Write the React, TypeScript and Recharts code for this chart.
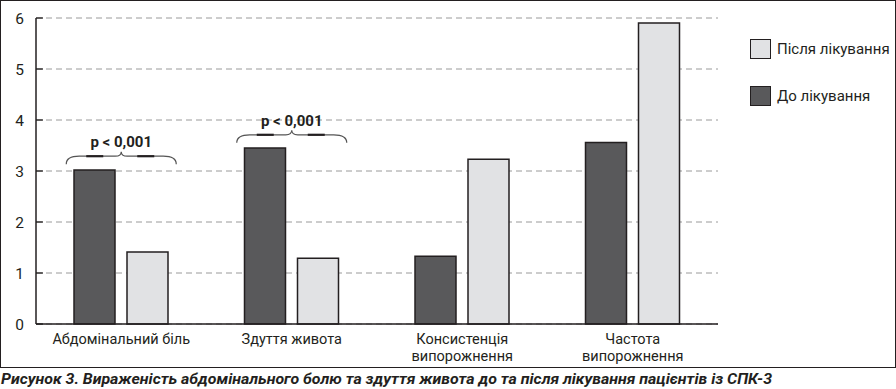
import React from 'react';
import { BarChart, Bar, XAxis, YAxis, CartesianGrid, ReferenceDot, Legend } from 'recharts';

const FONT = 'Roboto, "Liberation Sans", sans-serif';

const categories = ['Абдомінальний біль', 'Здуття живота', 'Консистенція\nвипорожнення', 'Частота\nвипорожнення'];
const beforeValues = [3.02, 3.45, 1.33, 3.56];
const afterValues = [1.41, 1.29, 3.23, 5.9];
const yTicks = [0, 1, 2, 3, 4, 5, 6];
const boundaryTicks = [0, 1, 2, 3, 4];
const seriesNames = { before: 'До лікування', after: 'Після лікування' };
const legendOrder = ['after', 'before'];
const pCategories = [categories[0], categories[1]];
const pLevels = [3.29, 3.71];
const pText = 'p < 0,001';
const caption = 'Рисунок 3. Вираженість абдомінального болю та здуття живота до та після лікування пацієнтів із СПК-3';

const DARK = '#59595b';
const LIGHT = '#e1e2e4';
const INK = '#231f20';

const data = categories.map((name, i) => ({ name, before: beforeValues[i], after: afterValues[i] }));

const CatTick = (props: any) => {
  const { x, y, payload } = props;
  const lines = String(payload.value).split('\n');
  return (
    <g>
      {lines.map((l, i) => (
        <text key={i} x={x} y={y + 20 + i * 16.5} textAnchor="middle" fill={INK} fontSize={14.5} fontFamily={FONT}>{l}</text>
      ))}
    </g>
  );
};

const Brace = (props: any) => {
  const { cx, cy } = props;
  if (cx == null || cy == null) return <g />;
  const d = `M ${cx - 55} ${cy + 8} C ${cx - 55} ${cy + 2} ${cx - 50} ${cy} ${cx - 42} ${cy} L ${cx - 6} ${cy} C ${cx - 2} ${cy} ${cx} ${cy - 2} ${cx} ${cy - 4.5} C ${cx} ${cy - 2} ${cx + 2} ${cy} ${cx + 6} ${cy} L ${cx + 42} ${cy} C ${cx + 50} ${cy} ${cx + 55} ${cy + 2} ${cx + 55} ${cy + 8}`;
  return (
    <g>
      <path d={d} fill="none" stroke="#555" strokeWidth={1.2} />
      <line x1={cx - 35} x2={cx - 18} y1={cy} y2={cy} stroke={INK} strokeWidth={2.2} />
      <line x1={cx + 16} x2={cx + 33} y1={cy} y2={cy} stroke={INK} strokeWidth={2.2} />
      <text x={cx} y={cy - 9} textAnchor="middle" fontWeight="bold" fontSize={15} fill={INK} fontFamily={FONT}>{pText}</text>
    </g>
  );
};

const renderLegend = () => (
  <div style={{ fontFamily: FONT, fontSize: 15, color: INK }}>
    {legendOrder.map((k, i) => (
      <div key={k} style={{ display: 'flex', alignItems: 'center', height: 21, marginBottom: i === 0 ? 26 : 0 }}>
        <div style={{ width: 21, height: 20, boxSizing: 'border-box', border: `1.5px solid ${INK}`, background: k === 'after' ? LIGHT : DARK, marginRight: 6 }} />
        <span style={{ whiteSpace: 'nowrap' }}>{(seriesNames as any)[k]}</span>
      </div>
    ))}
  </div>
);

export default function App() {
  return (
    <div style={{ position: 'absolute', left: 0, top: 0, width: 896, height: 389, background: '#fff', fontFamily: FONT }}>
      <div style={{ position: 'absolute', left: 0, top: 0, width: 896, height: 368, boxSizing: 'border-box', border: `1.5px solid ${INK}` }} />
      <div style={{ position: 'absolute', left: 0, top: 0 }}>
        <BarChart width={896} height={368} data={data} margin={{ top: 18, right: 178, bottom: 0, left: 0 }} barCategoryGap={38} barGap={12}>
          <CartesianGrid vertical={false} stroke="#9a9a9a" strokeDasharray="6 4" />
          <XAxis dataKey="name" height={44} interval={0} tickLine={false} tickSize={0} tickMargin={0} axisLine={{ stroke: INK, strokeWidth: 1.5 }} tick={<CatTick />} />
          <XAxis xAxisId="b" type="number" domain={[0, 4]} ticks={boundaryTicks} height={0} axisLine={false} tickSize={-7} tickLine={{ stroke: INK, strokeWidth: 1.3 }} tick={() => <g />} allowDataOverflow />
          <YAxis domain={[0, 6]} ticks={yTicks} width={36} interval={0} tickSize={-7} tickMargin={19} axisLine={{ stroke: INK, strokeWidth: 1.5 }} tickLine={{ stroke: INK, strokeWidth: 1.3 }} tick={{ fill: INK, fontSize: 15.5, fontFamily: FONT }} />
          <Bar dataKey="before" name={seriesNames.before} fill={DARK} stroke={INK} strokeWidth={1.5} isAnimationActive={false} />
          <Bar dataKey="after" name={seriesNames.after} fill={LIGHT} stroke={INK} strokeWidth={1.5} isAnimationActive={false} />
          {pCategories.map((c, i) => (
            <ReferenceDot key={i} x={c} y={pLevels[i]} r={0} shape={Brace} ifOverflow="visible" />
          ))}
          <Legend layout="horizontal" verticalAlign="middle" align="center" content={renderLegend} wrapperStyle={{ position: 'absolute', left: 750, top: 38, width: 146, height: 80 }} />
        </BarChart>
      </div>
      <svg style={{ position: 'absolute', left: 0, top: 368 }} width={896} height={21}>
        <text x={1} y={16} textLength={771} lengthAdjust="spacingAndGlyphs" fontSize={15} fontWeight="bold" fontStyle="italic" fill={INK} fontFamily={FONT}>{caption}</text>
      </svg>
    </div>
  );
}
